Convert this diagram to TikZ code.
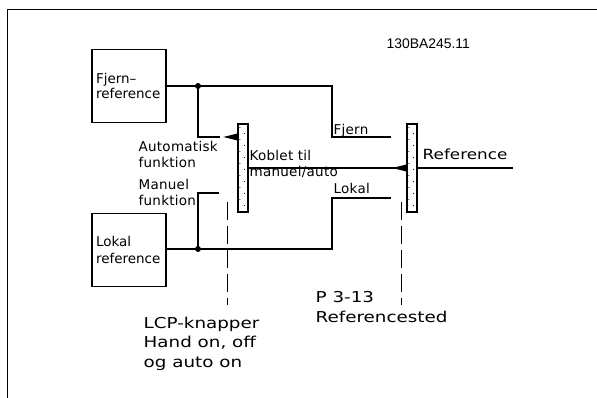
\documentclass[tikz,border=0pt]{standalone}
\usepackage{fontspec}
\setmainfont{DejaVu Sans}
\newfontfamily\cadfont[LetterSpace=2]{DejaVu Sans}
\newfontfamily\codefont{Liberation Sans}
\usepackage{tikz}
\usetikzlibrary{calc}

\begin{document}
\begin{tikzpicture}[x=1pt,y=-1pt,line width=1.2pt,
        refbox/.style={draw,minimum width=74pt,minimum height=73pt,inner xsep=4pt,text width=66pt,align=left},
        bar/.style={draw,fill=white,minimum width=10pt,minimum height=88pt,inner sep=0pt},
        lbl/.style={inner sep=0pt,anchor=base west,align=left,font=\cadfont\fontsize{13.5}{16}\selectfont},
        vtxt/.style={inner sep=0pt,anchor=base west,align=left,xscale=1.22,transform shape,font=\fontsize{15}{19.5}\selectfont},
        jdot/.style={circle,fill,inner sep=0pt,minimum size=6pt}]
        \useasboundingbox (0,0) rectangle (597,398);
        \draw[line width=0.9pt] (597,9) -- (7,9) -- (7,398);

        % boxes and switches
        \node[refbox,font=\fontsize{13.5}{12.5}\selectfont] (fjern) at (129,86) {Fjern–\\reference};
        \node[refbox,font=\fontsize{13.5}{17}\selectfont] (lokal) at (129,250) {Lokal\\reference};
        \node[bar] (sw1) at (243,168) {};
        \node[bar] (sw2) at (412,168) {};
        \foreach \b in {sw1,sw2}{
            \foreach \k in {0,...,13}{
                \fill ($(\b.north west)+({2.5+4.5*mod(\k,2)},{4+6*\k})$) circle (0.55pt);
            }
        }

        \coordinate (j1) at (198,86);
        \coordinate (jl) at (198,249);
        \coordinate (autoc) at (220,137);
        \coordinate (manc) at (219,193);
        \coordinate (fk) at (332,137);
        \coordinate (lk) at (332,198);
        \coordinate (fjernc) at (391,137);
        \coordinate (lokalc) at (391,198);
        \coordinate (refin) at (513,168);

        % connections
        \draw (fjern.east) -- (j1) -| (fk) -- (fjernc);
        \draw (lokal.east |- jl) -- (jl) -| (lk) -- (lokalc);
        \draw (j1) |- (autoc);
        \draw (jl) |- (manc);
        \draw (sw1.east) -- (sw2.west);
        \draw (sw2.east) -- (refin);
        \node[jdot] at (j1) {};
        \node[jdot] at (jl) {};
        \fill ($(sw1.west |- autoc)+(0,-3.5)$) -- ($(sw1.west |- autoc)+(0,3.5)$) -- ($(sw1.west |- autoc)+(-14,0)$) -- cycle;
        \fill ($(sw2.west)+(0,-3.5)$) -- ($(sw2.west)+(0,3.5)$) -- ($(sw2.west)+(-14,0)$) -- cycle;

        \draw[line width=1pt,dash pattern=on 18pt off 6pt] (227,202) -- (227,305);
        \draw[line width=1pt,dash pattern=on 18pt off 6pt] (401,202) -- (401,305);

        % labels (base = last line)
        \node[lbl] (auto) at (138,168) {Automatisk\\funktion};
        \node[lbl] (man) at (138,206) {Manuel\\funktion};
        \node[lbl] (koblet) at (249,161) {Koblet til};
        \node[lbl] (mauto) at (249,177) {manuel/auto};
        \node[lbl] (fjernlbl) at (333,135) {Fjern};
        \node[lbl] (lokallbl) at (333,194) {Lokal};
        \node[vtxt,font=\fontsize{14}{19.5}\selectfont,xscale=0.984] (ref) at (422,160) {Reference};
        \node[vtxt] (lcp) at (143,367) {LCP-knapper\\Hand on, off\\og auto on};
        \node[vtxt] (par) at (315,322) {P 3-13\\Referencested};
        \node[inner sep=0pt,anchor=base west,font=\codefont\fontsize{13.9}{14}\selectfont] (code) at (386,49) {130BA245.11};
\end{tikzpicture}
\end{document}
